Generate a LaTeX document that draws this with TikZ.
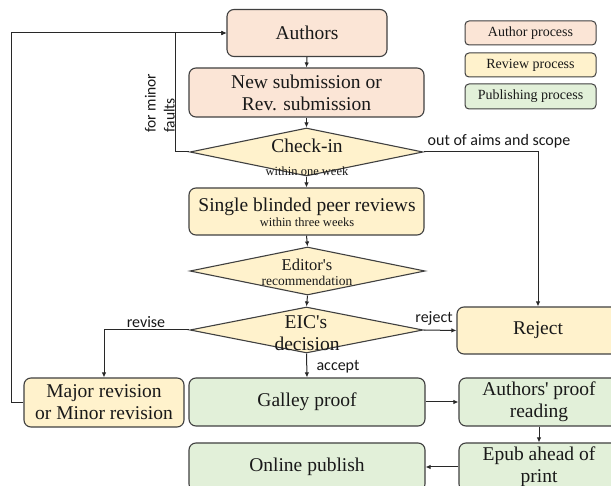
\documentclass[tikz,border=0pt]{standalone}
\usepackage{fontspec}
\setmainfont{Liberation Serif}
\newfontfamily\labfont{Carlito}
\usetikzlibrary{shapes.geometric,arrows.meta}
\definecolor{authfill}{RGB}{251,229,214}
\definecolor{revfill}{RGB}{255,242,204}
\definecolor{pubfill}{RGB}{226,240,217}
\definecolor{edgecol}{RGB}{64,64,64}
\definecolor{linecol}{RGB}{40,40,40}
\begin{document}
\begin{tikzpicture}[x=1pt,y=-1pt,
  box/.style={draw=edgecol, line width=1.1pt, rounded corners=7pt, align=center, inner sep=0pt,
    font=\fontsize{19.5}{22}\selectfont, text=black!90},
  authbox/.style={box, fill=authfill},
  revbox/.style={box, fill=revfill},
  pubbox/.style={box, fill=pubfill},
  dia/.style={diamond, draw=edgecol, line width=1.1pt, fill=revfill, inner sep=0pt},
  bigtxt/.style={inner sep=0pt, anchor=base, font=\fontsize{19.5}{22}\selectfont, text=black!90},
  smalltxt/.style={inner sep=0pt, anchor=base, font=\fontsize{12.5}{14}\selectfont, text=black!90},
  legendbox/.style={draw=edgecol, line width=1pt, rounded corners=4pt, minimum width=131pt,
    minimum height=24pt, inner sep=0pt, font=\fontsize{14}{16}\selectfont, text=black!90},
  conn/.style={draw=linecol, line width=1pt, -{Latex[length=5pt,width=4.5pt]}},
  lbl/.style={font=\labfont\fontsize{16}{18}\selectfont, inner sep=0pt, text=black!90},
]
\useasboundingbox (0,0) rectangle (611,486);
\fill[white] (0,0) rectangle (611,486);

% legend
\node[legendbox, fill=authfill] (legA) at (530.5,33) {Author process};
\node[legendbox, fill=revfill] (legR) at (530.5,65) {Review process};
\node[legendbox, fill=pubfill, minimum height=25pt] (legP) at (530.5,96.5) {Publishing process};

% main flow
\node[authbox, minimum width=160pt, minimum height=47pt] (authors) at (307,33) {Authors};
\node[authbox, minimum width=235pt, minimum height=49pt] (newsub) at (306.5,92.5) {New submission or\\Rev. submission};

\node[dia, minimum width=233pt, minimum height=48pt] (checkin) at (306.5,152) {};
\node[bigtxt] (checkinA) at (307,153) {Check-in};
\node[smalltxt] (checkinB) at (307,176) {within one week};

\node[revbox, minimum width=235pt, minimum height=47pt] (single) at (306.5,211.5) {};
\node[bigtxt] (singleA) at (307,212) {Single blinded peer reviews};
\node[smalltxt] (singleB) at (307,227) {within three weeks};

\node[dia, minimum width=235pt, minimum height=48pt] (editor) at (307.5,271) {};
\node[bigtxt, font=\fontsize{16.5}{18}\selectfont] (editorA) at (307,271) {Editor\textquotesingle s};
\node[smalltxt, font=\fontsize{13.5}{15}\selectfont] (editorB) at (307,286) {recommendation};

\node[dia, minimum width=233pt, minimum height=46pt] (eic) at (306.5,330) {};
\node[bigtxt] (eicA) at (306,329) {EIC\textquotesingle s};
\node[bigtxt] (eicB) at (307,351) {decision};

\node[revbox, minimum width=162pt, minimum height=47pt] (reject) at (538,330.5) {Reject};
\node[revbox, minimum width=160pt, minimum height=49pt] (major) at (104,402.5) {Major revision\\or Minor revision};
\node[pubbox, minimum width=236pt, minimum height=48pt] (galley) at (307,402) {Galley proof};
\node[pubbox, minimum width=160pt, minimum height=48pt] (proof) at (539,402) {Authors\textquotesingle\ proof\\reading};
\node[pubbox, minimum width=160pt, minimum height=48pt] (epub) at (539,467) {Epub ahead of\\print};
\node[pubbox, minimum width=236pt, minimum height=48pt] (online) at (307,467) {Online publish};

% connectors
\draw[conn] (authors.south) -- (newsub.north);
\draw[conn] (newsub.south) -- (checkin.north);
\draw[conn] (checkin.south) -- (single.north);
\draw[conn] (single.south) -- (editor.north);
\draw[conn] (editor.south) -- (eic.north);
\draw[conn] (eic.south) -- (galley.north);
\draw[conn] (eic.east) -- (reject.west);
\draw[conn] (eic.west) -| (major.north);
\draw[conn] (checkin.east) -| (reject.north);
\draw[conn] (checkin.west) -- ++(-14,0) |- (authors.west);
\draw[conn] (major.west) -- ++(-12,0) |- (authors.west);
\draw[conn] (galley.east) -- (proof.west);
\draw[conn] (proof.south) -- (epub.north);
\draw[conn] (epub.west) -- (online.east);

% labels
\node[lbl] (lblscope) at (499,141) {out of aims and scope};
\node[lbl] (lblrevise) at (146,322) {revise};
\node[lbl] (lblreject) at (434,318) {reject};
\node[lbl] (lblaccept) at (338,367) {accept};
\node[lbl, rotate=90, anchor=south west, align=left, font=\labfont\fontsize{15.5}{19}\selectfont] (lblminor) at (175,133) {for minor\\faults};
\end{tikzpicture}
\end{document}
